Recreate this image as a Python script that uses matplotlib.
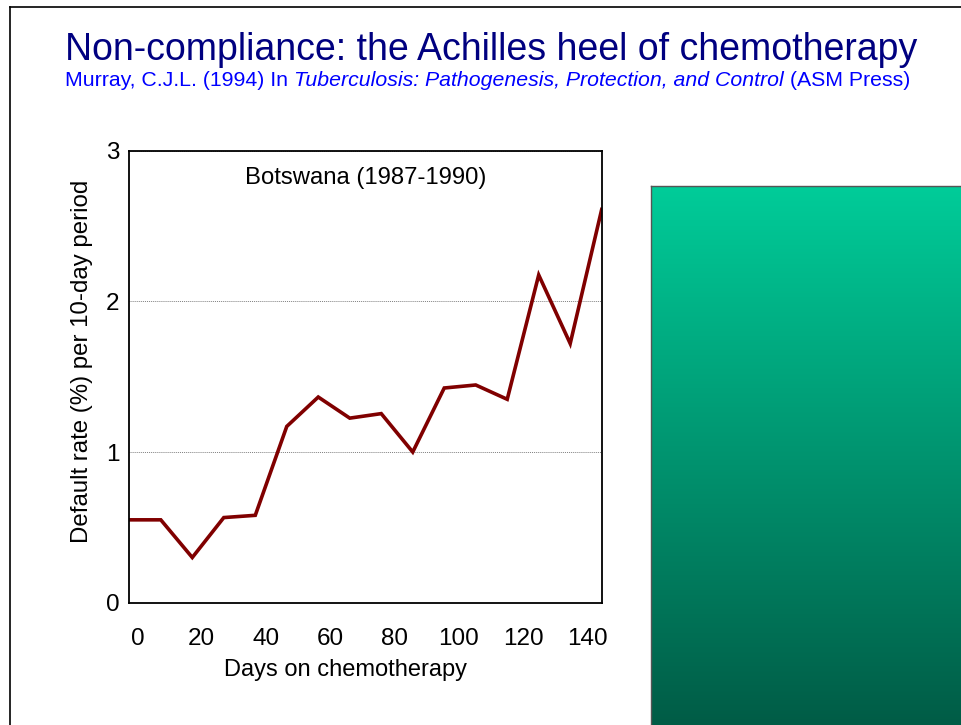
import numpy as np
import matplotlib
matplotlib.use("Agg")
import matplotlib.pyplot as plt
from matplotlib.colors import LinearSegmentedColormap
from matplotlib.lines import Line2D

plt.rcParams["font.family"] = ["Liberation Sans", "DejaVu Sans"]

# ── DATA ──────────────────────────────────────────────
days = [0, 10, 20, 30, 40, 50, 60, 70, 80, 90, 100, 110, 120, 130, 140, 150]
default_rate = [0.55, 0.55, 0.30, 0.565, 0.58, 1.17, 1.365, 1.225, 1.255, 1.0,
                1.425, 1.445, 1.35, 2.175, 1.72, 2.61]
x_tick_labels = [0, 20, 40, 60, 80, 100, 120, 140]
y_ticks = [0, 1, 2, 3]

title = "Non-compliance: the Achilles heel of chemotherapy"
subtitle_parts = [("Murray, C.J.L. (1994) In ", "normal"),
                  ("Tuberculosis: Pathogenesis, Protection, and Control", "italic"),
                  (" (ASM Press)", "normal")]

W, H = 961, 725
fig = plt.figure(figsize=(W / 100, H / 100), dpi=100)

# invisible full-figure axes for the slide decorations
bg = fig.add_axes([0, 0, 1, 1])
bg.set_xlim(0, W)
bg.set_ylim(H, 0)
bg.axis("off")

# slide border (top and left)
bg.add_line(Line2D([10, W], [7, 7], color="black", lw=1.2))
bg.add_line(Line2D([10, 10], [7, H], color="black", lw=1.2))

# title + citation (citation pieces chained left to right)
bg.text(65, 60, title, color="#000080", fontsize=27, va="baseline")
prev = bg.text(65, 86, subtitle_parts[0][0], color="#0000ff",
               fontsize=15.3, style=subtitle_parts[0][1], va="baseline")
for txt, st in subtitle_parts[1:]:
    prev = bg.annotate(txt, xy=(1, 0), xycoords=prev, xytext=(0, 0),
                       textcoords="offset points", ha="left", va="bottom",
                       color="#0000ff", fontsize=15.3, style=st,
                       annotation_clip=False)

# ── MAIN CHART ────────────────────────────────────────
ax = fig.add_axes([129.3 / W, 1 - 602.7 / H, (601.7 - 129.3) / W, (602.7 - 150.7) / H])
ax.plot(days, default_rate, color="#800000", lw=2.6, solid_joinstyle="miter")
ax.set_xlim(days[0], days[-1])
ax.set_ylim(0, 3)
ax.set_yticks(y_ticks)
ax.set_xticks([2.6 + 1.02 * v for v in x_tick_labels])
ax.set_xticklabels([str(v) for v in x_tick_labels])
ax.tick_params(length=0, labelsize=17.5)
ax.tick_params(axis="x", pad=18)
ax.tick_params(axis="y", pad=7)
ax.yaxis.grid(True, color="#808080", lw=0.7, linestyle=(0, (1, 1)))
for s in ax.spines.values():
    s.set_linewidth(1.3)
ax.set_xlabel("Days on chemotherapy", fontsize=17)
ax.xaxis.set_label_coords(0.458, -0.125)
ax.set_ylabel("Default rate (%) per 10-day period", fontsize=17.3)
ax.yaxis.set_label_coords(-0.077, 0.533)
ax.text(0.5, 0.94, "Botswana (1987-1990)", transform=ax.transAxes,
        ha="center", va="center", fontsize=17.2)

# ── GREEN PANEL ───────────────────────────────────────
gax = fig.add_axes([651 / W, 0, 1 - 651 / W, (725 - 186) / H])
cmap = LinearSegmentedColormap.from_list("g", ["#005c46", "#00cc99"])
grad = np.linspace(0, 1, 256).reshape(-1, 1)
gax.imshow(grad, aspect="auto", cmap=cmap, origin="lower")
gax.set_xticks([])
gax.set_yticks([])
for k in ["right", "bottom"]:
    gax.spines[k].set_visible(False)
for k in ["left", "top"]:
    gax.spines[k].set_color("#555555")
    gax.spines[k].set_linewidth(1.0)

fig.savefig("out.png", dpi=100)
